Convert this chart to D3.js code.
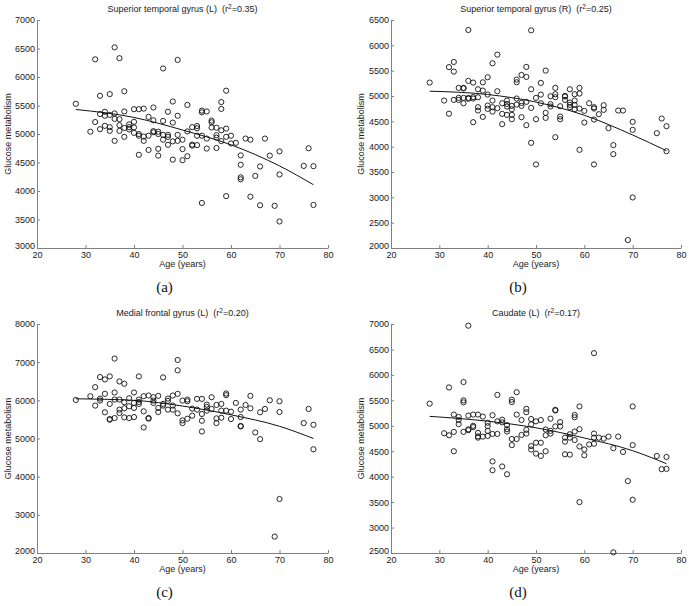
<!DOCTYPE html>
<html>
<head>
<meta charset="utf-8">
<script src="https://cdn.jsdelivr.net/npm/d3@7"></script>
<style>
  html, body { margin: 0; padding: 0; background: #fff; }
  svg { display: block; }
  text { font-family: "Liberation Sans", Arial, sans-serif; }
</style>
</head>
<body>
<svg id="chart" width="689" height="606"></svg>
<script>
// ---------------- DATA ----------------
const titles = ["Superior temporal gyrus (L)", "Superior temporal gyrus (R)", "Medial frontal gyrus (L)", "Caudate (L)"];
const r2Labels = ["0.35", "0.25", "0.20", "0.17"];
const captions = ["(a)", "(b)", "(c)", "(d)"];
const xLabel = "Age (years)";
const yLabel = "Glucose metabolism";
const xTicks = [20, 30, 40, 50, 60, 70, 80];

const yTicksA = [3000, 3500, 4000, 4500, 5000, 5500, 6000, 6500, 7000];
const yTicksB = [2000, 2500, 3000, 3500, 4000, 4500, 5000, 5500, 6000, 6500];
const yTicksC = [2000, 3000, 4000, 5000, 6000, 7000, 8000];
const yTicksD = [2500, 3000, 3500, 4000, 4500, 5000, 5500, 6000, 6500, 7000];

const ageA = [28,31,32,32,33,33,33,34,34,34,35,35,35,35,36,36,36,36,37,37,37,37,38,38,38,38,39,39,39,40,40,40,40,41,41,41,41,42,42,42,43,43,43,44,44,44,44,45,45,45,45,46,46,46,46,47,47,47,47,48,48,48,48,49,49,49,49,50,50,50,51,51,51,52,52,52,53,53,53,53,54,54,54,54,55,55,55,56,56,56,57,57,57,57,58,58,58,58,59,59,59,59,60,60,61,62,62,62,62,63,64,64,65,66,66,67,68,69,70,70,70,75,76,77,77];
const glucoseA = [5530,5040,6310,5210,5670,5350,5085,5390,5320,5143,5700,5335,5120,5055,6520,5360,5265,4880,6330,5260,5155,5055,5750,5395,5107,4950,5170,5120,5080,5435,5213,5115,5020,5435,5000,4970,4635,5445,4955,4880,5300,4970,4720,5465,5240,5050,5030,5040,5000,4740,4620,6150,5230,4985,4900,5390,4985,4950,4810,5570,5200,4870,4550,6300,5320,4985,4880,4900,4735,4540,5510,5045,4610,5120,4815,4795,5140,5100,4970,4805,5410,5380,4970,3790,5395,4920,4745,5235,5205,5115,5110,4980,4935,4755,5560,5440,5065,4875,5760,5095,4950,3910,4970,4835,4845,4625,4460,4240,4205,4920,4900,3900,4265,4430,3750,4920,4620,3740,4695,4290,3465,4440,4750,4435,3755];

const ageB = [28,31,32,32,33,33,33,34,34,34,35,35,35,35,36,36,36,36,37,37,37,37,38,38,38,38,39,39,39,40,40,40,40,41,41,41,41,42,42,42,43,43,43,44,44,44,44,45,45,45,45,46,46,46,46,47,47,47,47,48,48,48,48,49,49,49,49,50,50,50,51,51,51,52,52,52,53,53,53,54,54,54,54,55,55,55,56,56,56,57,57,57,57,58,58,58,58,59,59,59,59,60,60,61,62,62,62,62,63,64,64,65,66,66,67,68,69,70,70,70,75,76,77,77];
const glucoseB = [5265,4910,5570,4650,5672,5482,4923,5160,4963,4923,5160,5150,4963,4857,6303,5298,4963,4945,5265,4980,4950,4483,5133,4975,4779,4713,5270,5107,4588,5370,5028,4812,4746,5646,4910,4779,4693,5817,5094,4759,4857,4647,4444,4910,4844,4792,4628,4805,4739,4628,4542,5324,5271,4950,4831,5416,4864,4805,4582,5574,5377,4884,4424,6296,5133,4766,4076,4963,4542,3649,5258,5028,4857,5501,4667,4568,4996,4838,4792,5160,5035,4976,4187,4798,4595,4542,5002,4990,4923,5133,4871,4825,4779,5035,4910,4825,4739,5160,5048,4752,3938,4706,4476,4857,4779,4752,4536,3649,4641,4818,4726,4365,4030,3852,4713,4713,2157,4490,4332,2998,4266,4555,4404,3911];

const ageC = [28,31,32,32,33,33,33,34,34,34,35,35,35,35,36,36,36,36,37,37,37,37,38,38,38,38,39,39,39,40,40,40,40,41,41,41,41,42,42,42,43,43,43,44,44,44,45,45,45,46,46,46,47,47,47,48,48,48,49,49,49,49,50,50,50,51,51,51,52,52,53,53,54,54,54,54,55,55,55,56,56,57,57,57,58,58,58,59,59,59,60,60,61,62,62,62,62,63,64,64,65,66,66,67,68,69,70,70,70,75,76,77,77];
const glucoseC = [6010,6108,6346,5862,6610,6046,5994,6548,6170,5686,6627,5906,5510,5492,7094,6205,6020,5536,6495,6020,5756,5668,6434,5950,5791,5554,6055,5844,5536,6205,5932,5800,5562,6627,6020,5958,5906,6108,5712,5290,6126,5540,5520,6082,5994,5932,6117,5800,5694,6601,5906,5862,6046,5985,5756,6126,5862,5756,7058,6786,6170,5659,5994,5474,5404,6020,5976,5518,5782,5598,6038,5756,6038,5642,5465,5184,5888,5826,5730,6082,5774,5879,5527,5404,5906,5730,5545,6179,6135,5730,5703,5510,5932,5756,5562,5330,5316,5879,6117,5791,5158,5686,4982,5774,6002,2430,5976,5694,3415,5404,5774,5360,4718];

const ageD = [28,31,32,32,33,33,33,34,34,34,35,35,35,35,36,36,36,36,37,37,37,38,38,38,38,39,39,40,40,40,40,41,41,41,41,42,42,42,43,43,43,44,44,44,44,45,45,45,45,46,46,46,47,47,48,48,48,48,49,49,49,49,50,50,50,51,51,51,52,52,52,53,53,53,54,54,54,55,55,56,56,56,57,57,57,58,58,58,58,59,59,59,59,60,60,61,62,62,62,62,63,64,65,66,66,67,68,69,70,70,70,75,76,77,77];
const glucoseD = [5435,4853,5753,4813,5220,4880,4500,5173,5113,5033,5860,5500,5460,4880,6967,5200,4913,4930,5220,5000,4973,5220,4860,4793,4767,5180,4787,5060,4993,4900,4800,5207,4840,4300,4127,5607,5087,4840,5120,5067,4200,5013,4933,4887,4047,5513,5467,4740,4620,5660,5220,4740,5113,4820,5333,5267,4920,4847,5133,5027,4600,4533,5087,4667,4453,5113,4667,4407,4927,4813,4500,5140,4900,4847,5313,5300,4987,5073,4987,4767,4687,4440,4833,4767,4433,5213,5167,4887,4720,5380,4933,4593,3500,4533,4420,4633,6427,4847,4767,4647,4767,4747,4787,4560,2513,4787,4487,3913,5380,4620,3547,4407,4147,4387,4153];

const fitAge = [28, 40, 50, 60, 70, 77];
const fitA = [5430, 5290, 5070, 4810, 4440, 4110];
const fitB = [5095, 5030, 4880, 4620, 4230, 3920];
const fitC = [6040, 6000, 5850, 5620, 5320, 5000];
const fitD = [5185, 5090, 4960, 4760, 4510, 4255];

// ---------------- LAYOUT ----------------
const panels = [
  { ages: ageA, vals: glucoseA, fit: fitA, yTicks: yTicksA, left: 37,  right: 328, top: 20,  bottom: 248, ylabX: 11 },
  { ages: ageB, vals: glucoseB, fit: fitB, yTicks: yTicksB, left: 391, right: 681, top: 20,  bottom: 248, ylabX: 364 },
  { ages: ageC, vals: glucoseC, fit: fitC, yTicks: yTicksC, left: 37,  right: 328, top: 324, bottom: 553, ylabX: 11 },
  { ages: ageD, vals: glucoseD, fit: fitD, yTicks: yTicksD, left: 391, right: 681, top: 324, bottom: 553, ylabX: 364 }
];

const svg = d3.select("#chart");
svg.append("rect").attr("width", 689).attr("height", 606).attr("fill", "#fff");

const axisColor = "#808080";
const textColor = "#1a1a1a";

panels.forEach((p, i) => {
  const x = d3.scaleLinear().domain([20, 80]).range([p.left, p.right]);
  const y = d3.scaleLinear().domain([p.yTicks[0], p.yTicks[p.yTicks.length - 1]]).range([p.bottom, p.top]);
  const g = svg.append("g");

  // axes (MATLAB style: ticks pointing inward, no box)
  const xAxis = d3.axisBottom(x).tickValues(xTicks).tickFormat(d3.format("d"))
    .tickSizeInner(-3).tickSizeOuter(0).tickPadding(4);
  const yAxis = d3.axisLeft(y).tickValues(p.yTicks).tickFormat(d3.format("d"))
    .tickSizeInner(-3).tickSizeOuter(0).tickPadding(2);

  const gx = g.append("g").attr("transform", `translate(0,${p.bottom})`).call(xAxis);
  const gy = g.append("g").attr("transform", `translate(${p.left},0)`).call(yAxis);
  [gx, gy].forEach(ax => {
    ax.select(".domain").attr("stroke", axisColor).attr("stroke-width", 1);
    ax.selectAll(".tick line").attr("stroke", axisColor);
    ax.selectAll(".tick text").attr("fill", textColor)
      .style("font-family", '"Liberation Sans", Arial, sans-serif').style("font-size", "9px");
  });
  // lowest y label sits slightly higher so it does not collide with the first x label
  gy.selectAll(".tick text").filter(d => d === p.yTicks[0]).attr("dy", "0.1em");

  // points
  const pts = p.ages.map((a, k) => [a, p.vals[k]]).filter(d => d[1] !== undefined);
  g.append("g").selectAll("circle").data(pts).join("circle")
    .attr("cx", d => x(d[0])).attr("cy", d => y(d[1])).attr("r", 2.6)
    .attr("fill", "none").attr("stroke", "#111").attr("stroke-width", 0.9);

  // fitted curve
  const line = d3.line().x(d => x(d[0])).y(d => y(d[1])).curve(d3.curveMonotoneX);
  g.append("path").datum(fitAge.map((a, k) => [a, p.fit[k]]))
    .attr("d", line).attr("fill", "none").attr("stroke", "#111").attr("stroke-width", 1);

  const cx = (p.left + p.right) / 2;

  // title
  const t = g.append("text").attr("x", cx).attr("y", p.top - 8).attr("text-anchor", "middle")
    .attr("fill", textColor).style("font-size", "9px").style("white-space", "pre");
  t.append("tspan").text(titles[i] + "  (r");
  t.append("tspan").attr("dy", -3.5).style("font-size", "6.5px").text("2");
  t.append("tspan").attr("dy", 3.5).text("=" + r2Labels[i] + ")");

  // axis labels
  g.append("text").attr("x", cx).attr("y", p.bottom + 19).attr("text-anchor", "middle")
    .attr("fill", textColor).style("font-size", "9px").text(xLabel);
  g.append("text").attr("transform", `translate(${p.ylabX},${(p.top + p.bottom) / 2}) rotate(-90)`)
    .attr("text-anchor", "middle").attr("fill", textColor).style("font-size", "9px").text(yLabel);

  // caption
  g.append("text").attr("x", cx - 18).attr("y", p.bottom + 44).attr("text-anchor", "middle")
    .attr("fill", "#111").style("font-family", '"Liberation Serif", "Times New Roman", serif')
    .style("font-size", "15px").text(captions[i]);
});
</script>
</body>
</html>
